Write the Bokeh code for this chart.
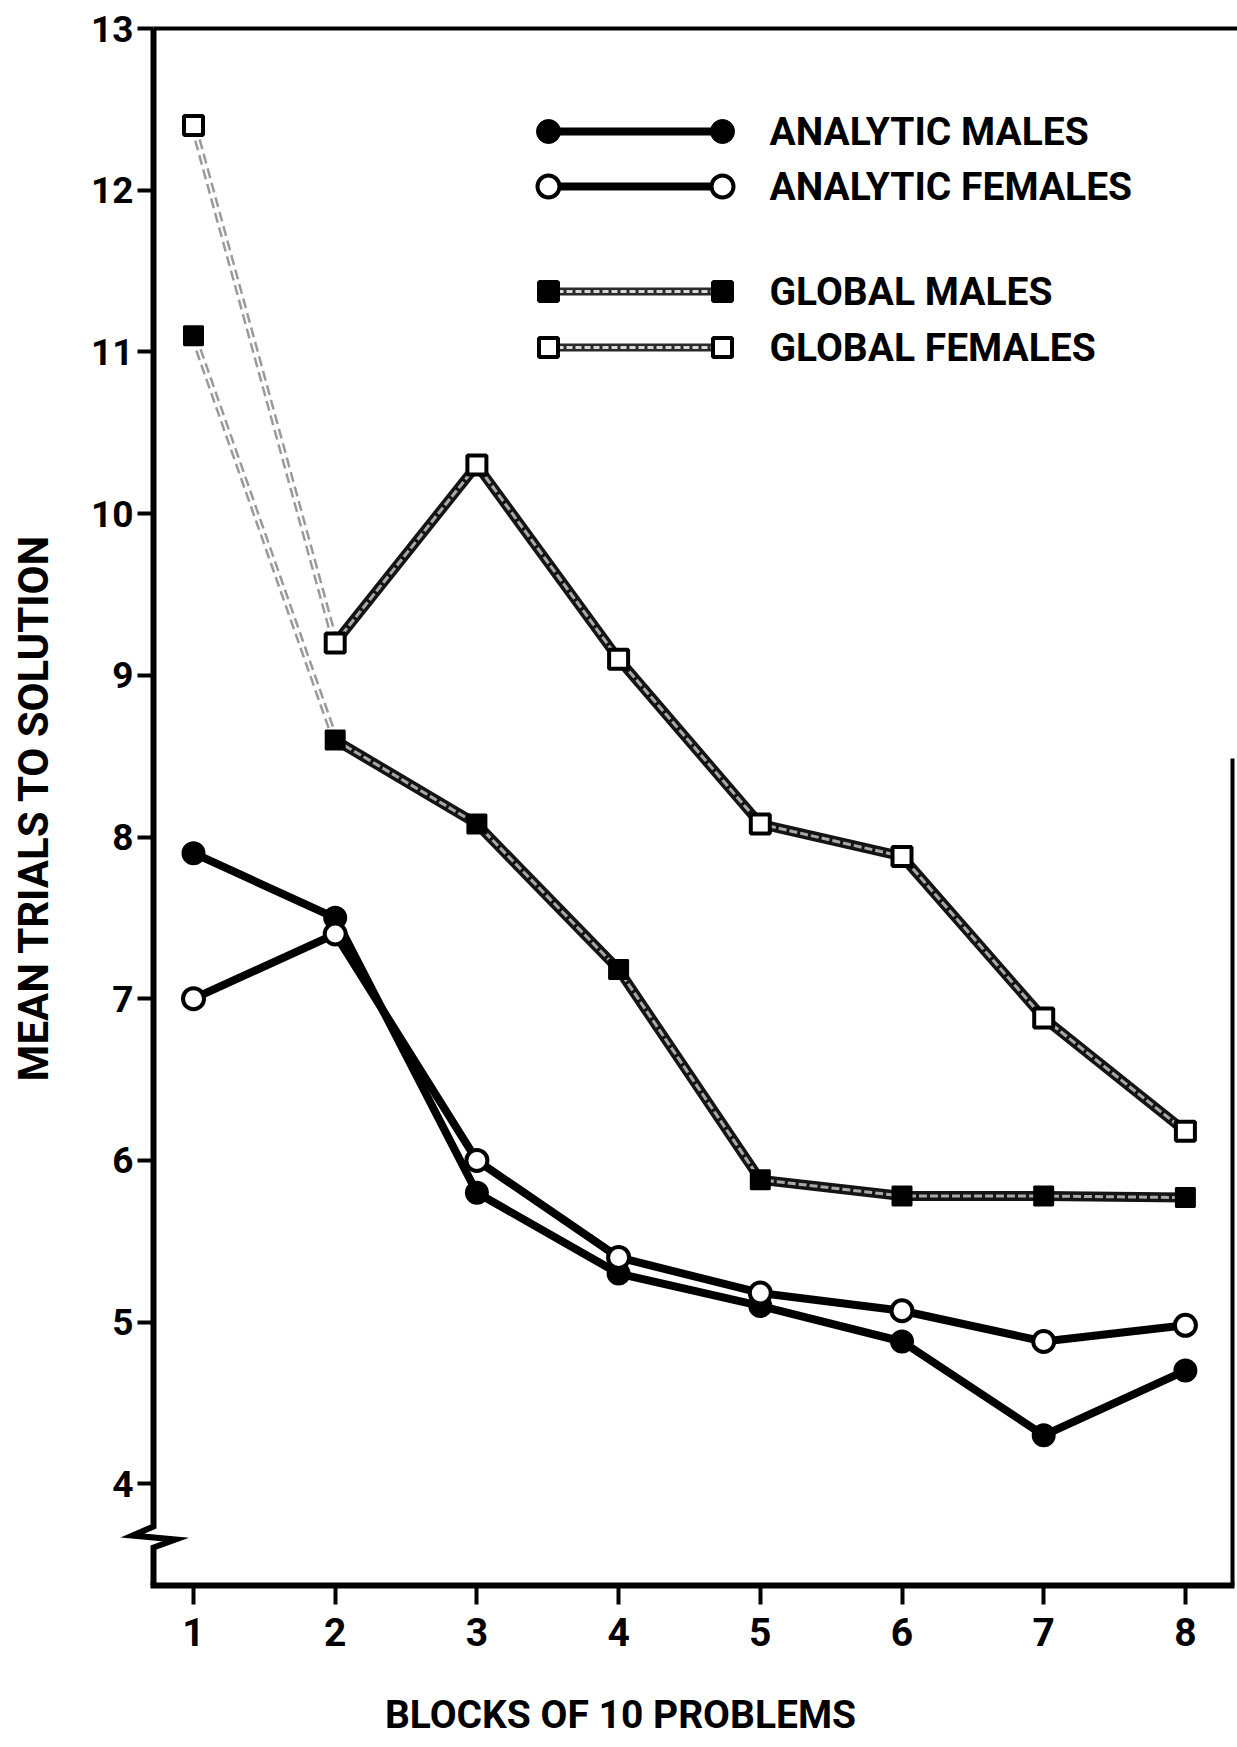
import math
from bokeh.plotting import figure
from bokeh.models import FixedTicker
from bokeh.embed import file_html
from bokeh.resources import INLINE
from bokeh.core.properties import value

# ---------------- data ----------------
blocks = [1, 2, 3, 4, 5, 6, 7, 8]
analytic_males = [7.9, 7.5, 5.8, 5.3, 5.1, 4.88, 4.3, 4.7]
analytic_females = [7.0, 7.4, 6.0, 5.4, 5.18, 5.07, 4.88, 4.98]
global_males = [11.1, 8.6, 8.08, 7.18, 5.88, 5.78, 5.78, 5.77]
global_females = [12.4, 9.2, 10.3, 9.1, 8.08, 7.88, 6.88, 6.18]
y_ticks = [4, 5, 6, 7, 8, 9, 10, 11, 12, 13]
x_ticks = blocks
series_labels = ["ANALYTIC MALES", "ANALYTIC FEMALES", "GLOBAL MALES", "GLOBAL FEMALES"]
x_title = "BLOCKS OF 10 PROBLEMS"
y_title = "MEAN TRIALS TO SOLUTION"

# ---------------- layout ----------------
W, H = 1237, 1747
FONT = "Roboto"
X1_PX, XSTEP = 193.0, 141.7     # pixel of block 1, pixels per block
Y13_PX, YSTEP = 28.0, 161.7     # pixel of value 13, pixels per unit


def px2x(px):
    return 1 + (px - X1_PX) / XSTEP


def px2y(py):
    return 13 - (py - Y13_PX) / YSTEP


AXIS_PX, BOTTOM_PX, RIGHT_PX = 153, 1585, 1232

# the frame covers the whole canvas; axes sit at fixed data locations
p = figure(width=W, height=H, output_backend="svg", toolbar_location=None,
           x_range=(px2x(0), px2x(W)), y_range=(px2y(H), px2y(0)),
           min_border_left=0, min_border_right=0, min_border_top=0, min_border_bottom=0)
p.outline_line_color = None
p.grid.visible = False
p.background_fill_color = "white"
p.border_fill_color = "white"

# x axis
xa = p.xaxis[0]
xa.fixed_location = px2y(BOTTOM_PX)
xa.ticker = FixedTicker(ticks=x_ticks)
xa.axis_line_color = None
xa.major_tick_out = 19
xa.major_tick_in = 0
xa.major_tick_line_width = 4
xa.major_tick_line_color = "black"
xa.minor_tick_line_color = None
xa.major_label_text_font = FONT
xa.major_label_text_font_size = "39px"
xa.major_label_text_font_style = "bold"
xa.major_label_text_color = "black"
xa.major_label_standoff = 13

# y axis
ya = p.yaxis[0]
ya.fixed_location = px2x(AXIS_PX)
ya.ticker = FixedTicker(ticks=y_ticks)
ya.axis_line_color = None
ya.major_tick_in = 0
ya.major_tick_out = 16
ya.major_tick_line_width = 4
ya.major_tick_line_color = "black"
ya.minor_tick_line_color = None
ya.major_label_text_font = FONT
ya.major_label_text_font_size = "37px"
ya.major_label_text_font_style = "bold"
ya.major_label_text_color = "black"
ya.major_label_standoff = 4

# axis titles
p.text(x=[px2x(33)], y=[px2y(807)], text=[y_title], angle=math.pi / 2,
       text_font=value(FONT), text_font_size="42px", text_font_style="bold",
       text_color="black", text_align="center", text_baseline="middle")
p.text(x=[px2x(620)], y=[px2y(1714)], text=[x_title],
       text_font=value(FONT), text_font_size="39px", text_font_style="bold",
       text_color="black", text_align="center", text_baseline="middle")

# frame lines: left axis with break, bottom axis, top, right
zig_px = [(AXIS_PX, Y13_PX), (AXIS_PX, 1526), (132, 1535), (175, 1539),
          (AXIS_PX, 1547), (AXIS_PX, BOTTOM_PX)]
p.line(x=[px2x(a) for a, b in zig_px], y=[px2y(b) for a, b in zig_px],
       line_width=6, line_color="black", line_join="miter")
p.line(x=[px2x(AXIS_PX - 3), px2x(RIGHT_PX + 2)], y=[px2y(BOTTOM_PX)] * 2,
       line_width=6, line_color="black")
p.line(x=[px2x(AXIS_PX), px2x(W)], y=[13, 13], line_width=4, line_color="black")
p.line(x=[px2x(RIGHT_PX)] * 2, y=[px2y(758), px2y(BOTTOM_PX)],
       line_width=4, line_color="black")


# ---------------- series ----------------
def global_line(xs, ys):
    # faint first segment (as printed)
    p.line(xs[:2], ys[:2], line_width=7, line_color="#9a9a9a", line_dash="10 5")
    p.line(xs[:2], ys[:2], line_width=2, line_color="white")
    p.line(xs[1:], ys[1:], line_width=10, line_color="#141414", line_join="round")
    p.line(xs[1:], ys[1:], line_width=3, line_color="#a8a8a8", line_join="round",
           line_dash="8 3")


global_line(blocks, global_females)
global_line(blocks, global_males)

p.line(blocks, analytic_females, line_width=8, line_color="black", line_join="round")
p.line(blocks, analytic_males, line_width=8, line_color="black", line_join="round")

p.scatter(blocks, global_males, marker="square", size=19,
          fill_color="black", line_color="black", line_width=2)
p.scatter(blocks, global_females, marker="square", size=19,
          fill_color="white", line_color="black", line_width=4)
p.scatter(blocks, analytic_males, marker="circle", size=22,
          fill_color="black", line_color="black", line_width=2)
p.scatter(blocks, analytic_females, marker="circle", size=21,
          fill_color="white", line_color="black", line_width=4)

# ---------------- legend (drawn) ----------------
row_py = [131, 186, 291, 347]
lx0, lx1, ltext = px2x(548), px2x(722), px2x(769)
ry = [px2y(v) for v in row_py]

p.line([lx0, lx1], [ry[0]] * 2, line_width=8, line_color="black")
p.scatter([lx0, lx1], [ry[0]] * 2, marker="circle", size=24,
          fill_color="black", line_color="black")
p.line([lx0, lx1], [ry[1]] * 2, line_width=8, line_color="black")
p.scatter([lx0, lx1], [ry[1]] * 2, marker="circle", size=22,
          fill_color="white", line_color="black", line_width=4)
for k, fill in ((2, "black"), (3, "white")):
    p.line([lx0, lx1], [ry[k]] * 2, line_width=8, line_color="#2a2a2a")
    p.line([lx0, lx1], [ry[k]] * 2, line_width=3, line_color="#d8d8d8", line_dash="6 3")
    p.scatter([lx0, lx1], [ry[k]] * 2, marker="square", size=19,
              fill_color=fill, line_color="black", line_width=4)

p.text(x=[ltext] * 4, y=ry, text=series_labels, text_font=value(FONT),
       text_font_size="39px", text_font_style="bold", text_color="black",
       text_align="left", text_baseline="middle")

open("out.html", "w").write(file_html(p, INLINE))
